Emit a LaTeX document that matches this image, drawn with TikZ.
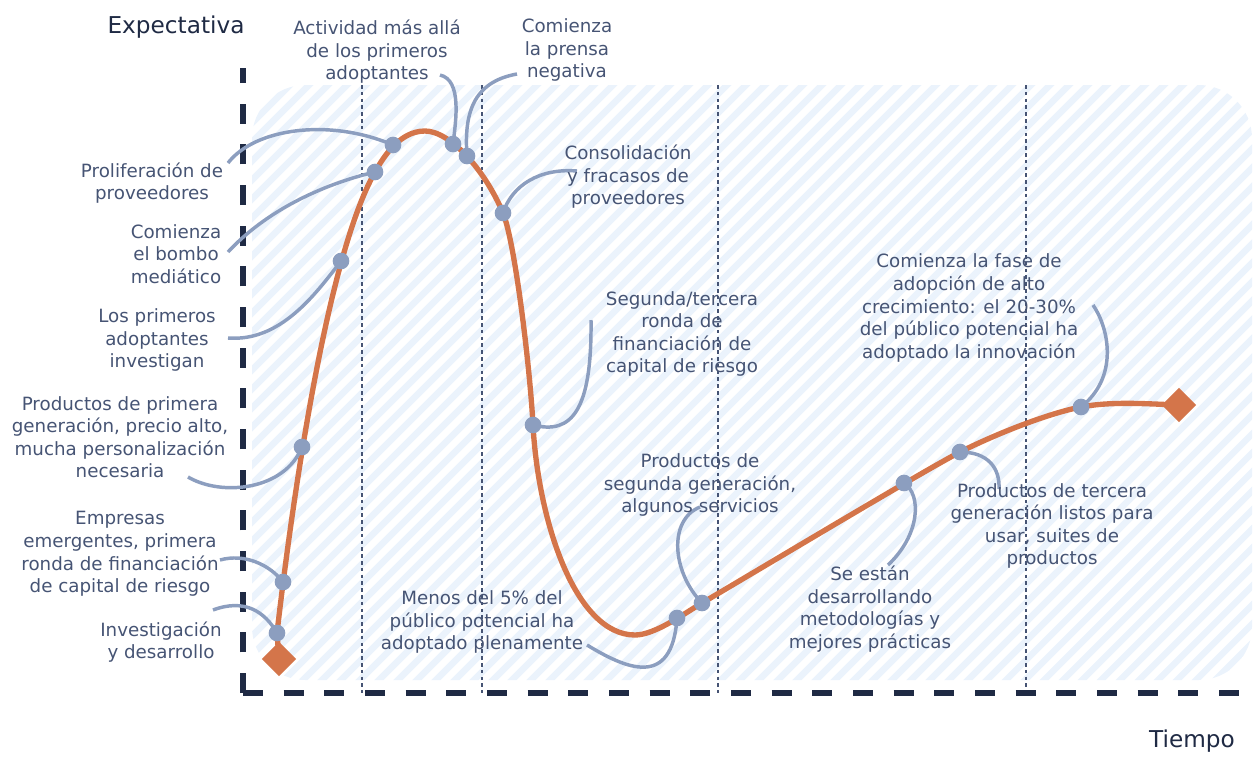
\documentclass[tikz,border=0pt]{standalone}
\usepackage{fontspec}
\setmainfont{DejaVu Sans}
\usetikzlibrary{shapes.geometric}
\definecolor{txt}{HTML}{465474}
\definecolor{navy}{HTML}{1F2A44}
\definecolor{orng}{HTML}{D4754A}
\definecolor{dotc}{HTML}{8C9EBF}
\definecolor{hatch}{HTML}{EBF3FC}
\begin{document}
\begin{tikzpicture}[x=0.75pt,y=-0.75pt,
  lbl/.style={text=txt,align=center,inner sep=0pt,font=\fontsize{13.7}{16.9}\selectfont},
  ttl/.style={text=navy,inner sep=0pt,font=\fontsize{17.4}{20}\selectfont},
  dot/.style={circle,fill=dotc,minimum size=12.5pt,inner sep=0pt},
  conn/.style={draw=dotc,line width=2.6pt},
  curve/.style={draw=orng,line width=4pt,line join=round},
  diamark/.style={fill=orng,diamond,minimum size=26pt,inner sep=0pt},
  axis/.style={draw=navy,line width=5pt,dash pattern=on 15pt off 15.5pt},
  vline/.style={draw=txt,line width=1.2pt,dash pattern=on 2.7pt off 2.4pt}]
\useasboundingbox (0,0) rectangle (1256,768);
% hatched background
\begin{scope}
  \clip[rounded corners=40pt] (252,85) rectangle (1252,680);
  \foreach \c in {-420,-401,...,1260} {
    \draw[hatch,line width=4.8pt,line cap=round] (\c,700) -- ++(640,-640);
  }
\end{scope}
% vertical dashed lines
\foreach \x in {362,482,718,1026} {
  \draw[vline] (\x,85) -- (\x,693);
}
% axes
\coordinate (o) at (243,693);
\coordinate (ytop) at (243,68);
\coordinate (xend) at (1256,693);
\draw[axis] (o) -- (ytop);
\draw[axis] (o) -- (xend);
% main curve
\draw[curve] (279,659) -- (277,633)
  .. controls (290,520) and (325,260) .. (375,172)
  .. controls (384,156) and (400,131) .. (425,131)
  .. controls (450,131) and (485,170) .. (503,213)
  .. controls (515,242) and (530,368) .. (533,425)
  .. controls (538,520) and (575,635) .. (635,635)
  .. controls (655,635) and (685,613) .. (702,603)
  .. controls (770,563) and (920,473) .. (960,452)
  .. controls (1000,432) and (1050,413) .. (1081,407)
  .. controls (1112,401) and (1150,404) .. (1178,405);
% dot positions
\coordinate (d1) at (277,633);
\coordinate (d2) at (283,582);
\coordinate (d3) at (302,447);
\coordinate (d4) at (341,261);
\coordinate (d5) at (375,172);
\coordinate (d6) at (393,145);
\coordinate (d7) at (453,144);
\coordinate (d8) at (467,156);
\coordinate (d9) at (503,213);
\coordinate (d10) at (533,425);
\coordinate (d11) at (677,618);
\coordinate (d12) at (702,603);
\coordinate (d13) at (904,483);
\coordinate (d14) at (960,452);
\coordinate (d15) at (1081,407);
% connector start points
\coordinate (c1) at (213,610);
\coordinate (c2) at (220,560);
\coordinate (c3) at (188,477);
\coordinate (c4) at (228,338);
\coordinate (c5) at (228,252);
\coordinate (c6) at (228,163);
\coordinate (c7) at (440,75);
\coordinate (c8) at (517,74);
\coordinate (c9) at (577,171);
\coordinate (c10) at (591,320);
\coordinate (c11) at (587,645);
\coordinate (c12) at (700,507);
\coordinate (c13) at (888,565);
\coordinate (c14) at (999,489);
\coordinate (c15) at (1093,305);
\draw[conn] (c1) .. controls (245,598) and (265,612) .. (d1);
\draw[conn] (c2) .. controls (245,553) and (270,565) .. (d2);
\draw[conn] (c3) .. controls (222,497) and (285,490) .. (d3);
\draw[conn] (c4) .. controls (280,342) and (315,295) .. (d4);
\draw[conn] (c5) .. controls (265,212) and (320,185) .. (d5);
\draw[conn] (c6) .. controls (255,128) and (330,118) .. (d6);
\draw[conn] (c7) .. controls (462,80) and (456,120) .. (d7);
\draw[conn] (c8) .. controls (472,82) and (464,115) .. (d8);
\draw[conn] (c9) .. controls (540,168) and (512,185) .. (d9);
\draw[conn] (c10) .. controls (592,410) and (572,435) .. (d10);
\draw[conn] (c11) .. controls (625,668) and (672,690) .. (d11);
\draw[conn] (c12) .. controls (668,520) and (672,572) .. (d12);
\draw[conn] (c13) .. controls (920,535) and (922,495) .. (d13);
\draw[conn] (c14) .. controls (1000,468) and (988,452) .. (d14);
\draw[conn] (c15) .. controls (1110,330) and (1118,378) .. (d15);
\foreach \i in {1,...,15} { \node[dot] (p\i) at (d\i) {}; }
% diamonds
\node[diamark] (start) at (279,659) {};
\node[diamark] (end) at (1179,405) {};
% titles
\node[ttl] (ylab) at (176,27) {Expectativa};
\node[ttl] (xlab) at (1192,741) {Tiempo};
% labels
\node[lbl] (l1) at (377,52) {Actividad más allá\\de los primeros\\adoptantes};
\node[lbl] (l2) at (567,50) {Comienza\\la prensa\\negativa};
\node[lbl] (l3) at (152,183) {Proliferación de\\proveedores};
\node[lbl] (l4) at (176,254) {Comienza\\el bombo\\mediático};
\node[lbl] (l5) at (157,340) {Los primeros\\adoptantes\\investigan};
\node[lbl] (l6) at (120,437) {Productos de primera\\generación, precio alto,\\mucha personalización\\necesaria};
\node[lbl] (l7) at (120,554) {Empresas\\emergentes, primera\\ronda de financiación\\de capital de riesgo};
\node[lbl] (l8) at (161,642) {Investigación\\y desarrollo};
\node[lbl] (l9) at (628,177) {Consolidación\\y fracasos de\\proveedores};
\node[lbl] (l10) at (682,334) {Segunda/tercera\\ronda de\\financiación de\\capital de riesgo};
\node[lbl] (l11) at (969,308) {Comienza la fase de\\adopción de alto\\crecimiento: el 20-30\%\\del público potencial ha\\adoptado la innovación};
\node[lbl] (l12) at (700,485) {Productos de\\segunda generación,\\algunos servicios};
\node[lbl] (l13) at (482,622) {Menos del 5\% del\\público potencial ha\\adoptado plenamente};
\node[lbl] (l14) at (870,609) {Se están\\desarrollando\\metodologías y\\mejores prácticas};
\node[lbl] (l15) at (1052,526) {Productos de tercera\\generación listos para\\usar, suites de\\productos};
\end{tikzpicture}
\end{document}
